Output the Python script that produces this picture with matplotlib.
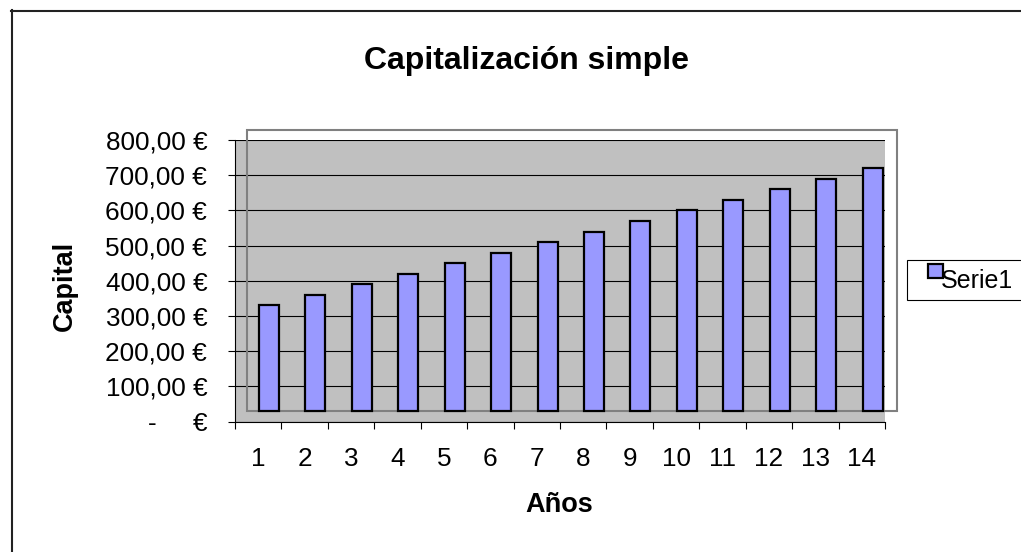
import matplotlib.pyplot as plt
import numpy as np
from matplotlib.patches import Rectangle
from matplotlib.lines import Line2D

plt.rcParams['font.family'] = ['Liberation Sans', 'DejaVu Sans']

years = [1, 2, 3, 4, 5, 6, 7, 8, 9, 10, 11, 12, 13, 14]
capital = [330, 360, 390, 420, 450, 480, 510, 540, 570, 600, 630, 660, 690, 720]
y_ticks = [0, 100, 200, 300, 400, 500, 600, 700, 800]
y_labels = ["-     €", "100,00 €", "200,00 €", "300,00 €", "400,00 €",
            "500,00 €", "600,00 €", "700,00 €", "800,00 €"]

W, H = 1021, 552
fig = plt.figure(figsize=(W / 100, H / 100), dpi=100)

def px(x, y):
    # pixel position (from top-left) -> figure fraction
    return x / W, 1 - y / H

# plot area in pixel terms
ax = fig.add_axes([235 / W, 1 - 421.7 / H, 650 / W, 281.7 / H])
ax.set_facecolor('#C0C0C0')

x = np.arange(len(years))
# Excel drew the inner plot frame (and bars) shifted a bit up/right
shift_x = 0.233
base = 29
vals = np.array(capital)
ax.bar(x + shift_x, vals - base, bottom=base, width=0.43,
       color='#9999FF', edgecolor='black', linewidth=1.6, zorder=3)

ax.add_patch(Rectangle((-0.5 + shift_x + 0.015, base), 14.01, 828 - base,
                       fill=False, edgecolor='#808080', linewidth=1.5,
                       clip_on=False, zorder=2.5))

ax.set_xlim(-0.5, 13.5)
ax.set_ylim(0, 800)
ax.set_yticks(y_ticks)
ax.set_yticklabels(y_labels, fontsize=18.8)
ax.yaxis.grid(True, color='black', linewidth=0.8)
ax.set_axisbelow(True)

ax.set_xticks(np.arange(-0.5, 14, 1))
ax.set_xticklabels([])
ax.set_xticks(x, minor=True)
ax.set_xticklabels([str(y) for y in years], minor=True, fontsize=18.8)
ax.tick_params(axis='x', which='minor', length=0, pad=18)
ax.tick_params(axis='x', which='major', length=5, width=0.8, direction='out')
ax.tick_params(axis='y', length=5, width=0.8, pad=15)

for s in ['top', 'right']:
    ax.spines[s].set_visible(False)
for s in ['left', 'bottom']:
    ax.spines[s].set_linewidth(0.8)
    ax.spines[s].set_color('black')

fig.text(*px(527, 69), "Capitalización simple", ha='center', va='baseline',
         fontsize=23, fontweight='bold')
fig.text(*px(65, 286), "Capital", ha='center', va='center',
         rotation=90, fontsize=19.5, fontweight='bold')
fig.text(*px(559, 512.5), "Años", ha='center', va='baseline',
         fontsize=19.5, fontweight='bold')

# legend box, cut off by the right edge like the original
fig.add_artist(Rectangle(px(907, 300), 130 / W, 40 / H, transform=fig.transFigure,
                         facecolor='white', edgecolor='black', linewidth=0.8))
fig.add_artist(Rectangle(px(928, 278), 15 / W, 14 / H, transform=fig.transFigure,
                         facecolor='#9999FF', edgecolor='black', linewidth=1.6))
fig.text(*px(941, 288), "Serie1", ha='left', va='baseline', fontsize=18)

# outer chart border (runs off the right/bottom edges)
fig.add_artist(Line2D([11.5 / W, 11.5 / W], [1 - 10 / H, 0], color='#222222', linewidth=1.5))
fig.add_artist(Line2D([11 / W, 1], [1 - 10.5 / H, 1 - 10.5 / H], color='#222222', linewidth=1.5))

fig.savefig('out.png', dpi=100)
